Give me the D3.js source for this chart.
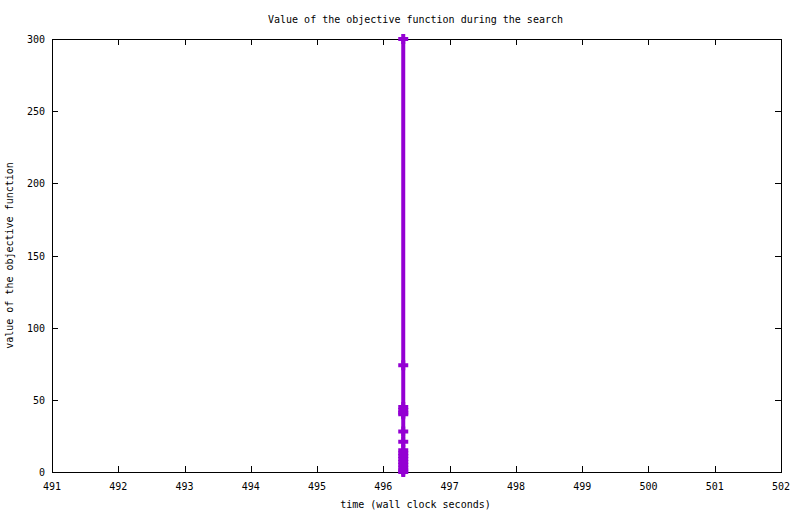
<!DOCTYPE html>
<html>
<head>
<meta charset="utf-8">
<script src="https://cdn.jsdelivr.net/npm/d3@7"></script>
<style>
  body { margin: 0; background: #fff; }
  svg text { font-family: "DejaVu Sans Mono", monospace; font-size: 10px; fill: #000; }
</style>
</head>
<body>
<div id="chart"></div>
<script>
"use strict";

// objective value at each improvement, all found around t = 496.3 s
const times = [496.3, 496.3, 496.3, 496.3, 496.3, 496.3, 496.3, 496.3, 496.3, 496.3, 496.3, 496.3, 496.3, 496.3, 496.3, 496.3, 496.3]
const values = [300, 74, 45, 43, 41, 40, 28, 21, 15, 13, 11, 9, 7, 5, 3, 1, 0]

const xTicks = [491, 492, 493, 494, 495, 496, 497, 498, 499, 500, 501, 502]
const yTicks = [0, 50, 100, 150, 200, 250, 300]

const title = 'Value of the objective function during the search'
    , xLabel = 'time (wall clock seconds)'
    , yLabel = 'value of the objective function'

const d = {
  WIDTH: 800,
  HEIGHT: 514,
  LEFT: 52,
  RIGHT: 781,
  TOP: 39,
  BOTTOM: 472,
  TICK: 6,
  COLOR: '#9400d3',
}

const svg = d3.select('#chart')
  .append('svg')
    .attr('width', d.WIDTH)
    .attr('height', d.HEIGHT)

const x = d3.scaleLinear().domain([491, 502]).range([d.LEFT, d.RIGHT])
    , y = d3.scaleLinear().domain([0, 300]).range([d.BOTTOM, d.TOP])

const axes = svg.append('g')
  .attr('shape-rendering', 'crispEdges')
  .attr('stroke', '#000')
  .attr('stroke-width', 1)

// frame
axes.append('rect')
  .attr('x', d.LEFT + .5)
  .attr('y', d.TOP + .5)
  .attr('width', d.RIGHT - d.LEFT)
  .attr('height', d.BOTTOM - d.TOP)
  .attr('fill', 'none')

// ticks with mirrors, all pointing inward
axes.selectAll('.xt')
  .data(xTicks)
  .join('path')
    .attr('d', t => {
      const px = Math.round(x(t)) + .5
      return `M${px},${d.BOTTOM}v${-d.TICK}M${px},${d.TOP}v${d.TICK}`
    })

axes.selectAll('.yt')
  .data(yTicks)
  .join('path')
    .attr('d', t => {
      const py = Math.round(y(t)) + .5
      return `M${d.LEFT},${py}h${d.TICK}M${d.RIGHT},${py}h${-d.TICK}`
    })

svg.append('g')
  .selectAll('text')
  .data(xTicks)
  .join('text')
    .attr('x', t => x(t))
    .attr('y', d.BOTTOM + 18)
    .attr('text-anchor', 'middle')
    .text(t => t)

svg.append('g')
  .selectAll('text')
  .data(yTicks)
  .join('text')
    .attr('x', d.LEFT - 7)
    .attr('y', t => y(t) + 4)
    .attr('text-anchor', 'end')
    .text(t => t)

svg.append('text')
  .attr('x', (d.LEFT + d.RIGHT) / 2 - 1)
  .attr('y', 23)
  .attr('text-anchor', 'middle')
  .text(title)

svg.append('text')
  .attr('x', (d.LEFT + d.RIGHT) / 2 - 1)
  .attr('y', 508)
  .attr('text-anchor', 'middle')
  .text(xLabel)

svg.append('text')
  .attr('transform', `translate(13,${(d.TOP + d.BOTTOM) / 2}) rotate(-90)`)
  .attr('text-anchor', 'middle')
  .text(yLabel)

// the series
const pts = times.map((t, i) => [t, values[i]])

svg.append('path')
  .datum(pts)
  .attr('fill', 'none')
  .attr('stroke', d.COLOR)
  .attr('stroke-width', 4)
  .attr('d', d3.line().x(p => x(p[0])).y(p => y(p[1])))

svg.append('g')
  .selectAll('path')
  .data(pts)
  .join('path')
    .attr('transform', p => `translate(${x(p[0])},${y(p[1])})`)
    .attr('d', 'M-5,0H5M0,-5V5')
    .attr('fill', 'none')
    .attr('stroke', d.COLOR)
    .attr('stroke-width', 4)
</script>
</body>
</html>
